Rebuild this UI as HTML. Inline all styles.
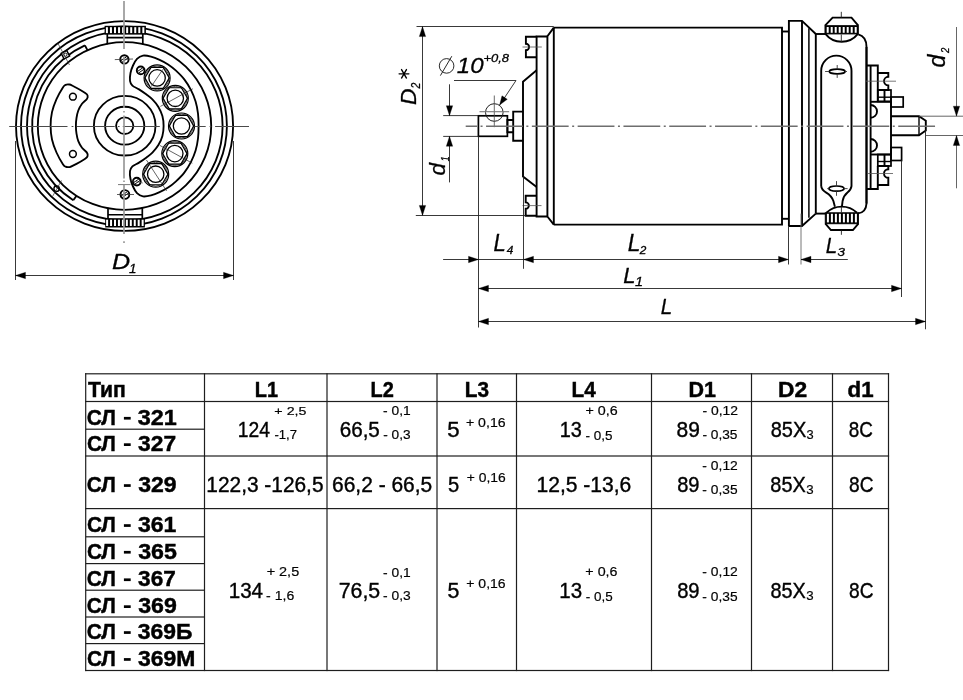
<!DOCTYPE html>
<html><head><meta charset="utf-8"><title>СЛ</title>
<style>html,body{margin:0;padding:0;background:#fff;}svg{display:block;}</style></head>
<body><svg width="963" height="700" viewBox="0 0 963 700" style="font-family:&quot;Liberation Sans&quot;, sans-serif">
<rect width="963" height="700" fill="#fff"/>
<rect x="85.1" y="373.2" width="804" height="1.2" fill="#1e1e1e"/>
<rect x="85.1" y="400.9" width="804" height="1.2" fill="#1e1e1e"/>
<rect x="85.1" y="455.4" width="804" height="1.2" fill="#1e1e1e"/>
<rect x="85.1" y="508" width="804" height="1.2" fill="#1e1e1e"/>
<rect x="85.1" y="669.9" width="804" height="1.2" fill="#1e1e1e"/>
<rect x="85.7" y="428.6" width="118.8" height="1.2" fill="#1e1e1e"/>
<rect x="85.7" y="536.2" width="118.8" height="1.2" fill="#1e1e1e"/>
<rect x="85.7" y="563" width="118.8" height="1.2" fill="#1e1e1e"/>
<rect x="85.7" y="589.6" width="118.8" height="1.2" fill="#1e1e1e"/>
<rect x="85.7" y="616.4" width="118.8" height="1.2" fill="#1e1e1e"/>
<rect x="85.7" y="643" width="118.8" height="1.2" fill="#1e1e1e"/>
<rect x="85.1" y="373.2" width="1.2" height="297.9" fill="#1e1e1e"/>
<rect x="203.9" y="373.2" width="1.2" height="297.9" fill="#1e1e1e"/>
<rect x="326.4" y="373.2" width="1.2" height="297.9" fill="#1e1e1e"/>
<rect x="436.4" y="373.2" width="1.2" height="297.9" fill="#1e1e1e"/>
<rect x="515.9" y="373.2" width="1.2" height="297.9" fill="#1e1e1e"/>
<rect x="650.9" y="373.2" width="1.2" height="297.9" fill="#1e1e1e"/>
<rect x="750.9" y="373.2" width="1.2" height="297.9" fill="#1e1e1e"/>
<rect x="831.9" y="373.2" width="1.2" height="297.9" fill="#1e1e1e"/>
<rect x="887.9" y="373.2" width="1.2" height="297.9" fill="#1e1e1e"/>
<g transform="translate(124.3,126.0) scale(1,0.967)">
<circle cx="0.25" cy="0" r="108.55" fill="none" stroke="#000" stroke-width="1.85" />
<circle cx="-0.35" cy="0" r="102.95" fill="none" stroke="#000" stroke-width="1.85" />
<circle cx="0.5" cy="0" r="97.8" fill="none" stroke="#000" stroke-width="1.85" />
<path d="M-39.4,-83.36 A92.2,92.2 0 0 0 -51.02,76.8" fill="none" stroke="#000" stroke-width="1.85" />
<line x1="-39.4" y1="-83.36" x2="-36.85" y2="-78.38" stroke="#000" stroke-width="1.85" />
<line x1="-51.02" y1="76.8" x2="-47.78" y2="72.21" stroke="#000" stroke-width="1.85" />
</g>
<line x1="107.3" y1="33.8" x2="107.3" y2="44.33" stroke="#000" stroke-width="1.7" />
<line x1="142.8" y1="33.8" x2="142.8" y2="44.55" stroke="#000" stroke-width="1.7" />
<line x1="107.3" y1="37.6" x2="142.8" y2="37.6" stroke="#000" stroke-width="1.6" />
<rect x="104.6" y="25.8" width="41.3" height="8.8" fill="#000"/>
<rect x="105.9" y="27.2" width="2.0" height="5.9" fill="#fff"/>
<rect x="109.95" y="27.2" width="2.0" height="5.9" fill="#fff"/>
<rect x="114" y="27.2" width="2.0" height="5.9" fill="#fff"/>
<rect x="118.05" y="27.2" width="2.0" height="5.9" fill="#fff"/>
<rect x="122.1" y="27.2" width="2.0" height="5.9" fill="#fff"/>
<rect x="126.15" y="27.2" width="2.0" height="5.9" fill="#fff"/>
<rect x="130.2" y="27.2" width="2.0" height="5.9" fill="#fff"/>
<rect x="134.25" y="27.2" width="2.0" height="5.9" fill="#fff"/>
<rect x="138.3" y="27.2" width="2.0" height="5.9" fill="#fff"/>
<rect x="142.35" y="27.2" width="2.0" height="5.9" fill="#fff"/>
<line x1="108" y1="207.81" x2="108" y2="218.5" stroke="#000" stroke-width="1.7" />
<line x1="142.3" y1="207.55" x2="142.3" y2="218.5" stroke="#000" stroke-width="1.7" />
<line x1="108" y1="214.8" x2="142.3" y2="214.8" stroke="#000" stroke-width="1.6" />
<rect x="105.2" y="218.2" width="39.7" height="9.3" fill="#000"/>
<rect x="106.1" y="219.7" width="2.0" height="6.3" fill="#fff"/>
<rect x="110.05" y="219.7" width="2.0" height="6.3" fill="#fff"/>
<rect x="114" y="219.7" width="2.0" height="6.3" fill="#fff"/>
<rect x="117.95" y="219.7" width="2.0" height="6.3" fill="#fff"/>
<rect x="121.9" y="219.7" width="2.0" height="6.3" fill="#fff"/>
<rect x="125.85" y="219.7" width="2.0" height="6.3" fill="#fff"/>
<rect x="129.8" y="219.7" width="2.0" height="6.3" fill="#fff"/>
<rect x="133.75" y="219.7" width="2.0" height="6.3" fill="#fff"/>
<rect x="137.7" y="219.7" width="2.0" height="6.3" fill="#fff"/>
<rect x="141.65" y="219.7" width="2.0" height="6.3" fill="#fff"/>
<g transform="translate(124.3,126.0) scale(1,0.967)">
<circle cx="0.2" cy="0" r="86.7" fill="none" stroke="#000" stroke-width="1.85" />
</g>
<rect x="62.3" y="51.6" width="6.2" height="6.2" transform="rotate(-28 65.4 54.7)" fill="#fff" stroke="#000" stroke-width="1.5"/>
<circle cx="65.4" cy="54.7" r="1.6" fill="none" stroke="#000" stroke-width="0.9" />
<line x1="58" y1="43.5" x2="69.5" y2="65" stroke="#333" stroke-width="0.7" />
<circle cx="56.6" cy="188.7" r="2.7" fill="none" stroke="#000" stroke-width="1.4" />
<line x1="52.5" y1="196.5" x2="61.5" y2="180.5" stroke="#333" stroke-width="0.7" />
<g transform="translate(124.7,125.7) scale(1,0.967)">
<circle cx="0" cy="0" r="8.6" fill="none" stroke="#000" stroke-width="1.85" />
<circle cx="0" cy="0" r="19.6" fill="none" stroke="#000" stroke-width="1.85" />
<circle cx="0" cy="0" r="30.8" fill="none" stroke="#000" stroke-width="1.85" />
</g>
<path d="M62.9,87.4 C64.42,85.03 64.58,85.38 65.6,84.9 C66.62,84.42 67.85,84.37 69,84.5 C70.15,84.63 69.8,84.3 72.5,85.7 C75.2,87.1 82.68,91.22 85.2,92.9 C87.72,94.58 87.32,94.78 87.6,95.8 C87.88,96.82 87.83,97.67 86.9,99 C85.97,100.33 83.43,101.88 82,103.8 C80.57,105.72 79.22,108.13 78.3,110.5 C77.38,112.87 76.9,115.45 76.5,118 C76.1,120.55 75.9,123.2 75.9,125.8 C75.9,128.4 76.1,131.03 76.5,133.6 C76.9,136.17 77.38,138.83 78.3,141.2 C79.22,143.57 80.57,145.9 82,147.8 C83.43,149.7 85.97,151.27 86.9,152.6 C87.83,153.93 87.88,154.78 87.6,155.8 C87.32,156.82 87.72,157.02 85.2,158.7 C82.68,160.38 75.2,164.5 72.5,165.9 C69.8,167.3 70.15,166.97 69,167.1 C67.85,167.23 66.62,167.18 65.6,166.7 C64.58,166.22 64.42,166.57 62.9,164.2 C61.38,161.83 58.32,156.62 56.5,152.5 C54.68,148.38 52.98,143.95 52,139.5 C51.02,135.05 50.6,130.37 50.6,125.8 C50.6,121.23 51.02,116.55 52,112.1 C52.98,107.65 54.68,103.22 56.5,99.1 C58.32,94.98 61.38,89.77 62.9,87.4 Z" fill="none" stroke="#000" stroke-width="1.85" />
<circle cx="72.9" cy="96.7" r="3.4" fill="none" stroke="#000" stroke-width="1.5" />
<circle cx="72.9" cy="154" r="3.4" fill="none" stroke="#000" stroke-width="1.5" />
<path d="M163.6,126 C163.6,122.7 163.27,119.28 162.4,116.1 C161.53,112.92 160.07,109.68 158.4,106.9 C156.73,104.12 154.38,101.45 152.4,99.4 C150.42,97.35 148.73,96.27 146.5,94.6 C144.27,92.93 141.35,90.9 139,89.4 C136.65,87.9 133.9,87.03 132.4,85.6 C130.9,84.17 130.32,82.9 130,80.8 C129.68,78.7 130,75.55 130.5,73 C131,70.45 131.92,67.87 133,65.5 C134.08,63.13 135.33,60.45 137,58.8 C138.67,57.15 140.67,55.97 143,55.6 C145.33,55.23 148.23,55.9 151,56.6 C153.77,57.3 156.75,58.5 159.6,59.8 C162.45,61.1 165.42,62.63 168.1,64.4 C170.78,66.17 173,67.9 175.7,70.4 C178.4,72.9 181.75,76.1 184.3,79.4 C186.85,82.7 189.12,86.52 191,90.2 C192.88,93.88 194.43,97.62 195.6,101.5 C196.77,105.38 197.5,109.42 198,113.5 C198.5,117.58 198.6,121.83 198.6,126 C198.6,130.17 198.5,134.42 198,138.5 C197.5,142.58 196.77,146.62 195.6,150.5 C194.43,154.38 192.88,158.12 191,161.8 C189.12,165.48 186.85,169.3 184.3,172.6 C181.75,175.9 178.4,179.1 175.7,181.6 C173,184.1 170.78,185.83 168.1,187.6 C165.42,189.37 162.45,190.9 159.6,192.2 C156.75,193.5 153.77,194.7 151,195.4 C148.23,196.1 145.33,196.77 143,196.4 C140.67,196.03 138.67,194.85 137,193.2 C135.33,191.55 134.08,188.87 133,186.5 C131.92,184.13 131,181.55 130.5,179 C130,176.45 129.68,173.3 130,171.2 C130.32,169.1 130.9,167.83 132.4,166.4 C133.9,164.97 136.65,164.1 139,162.6 C141.35,161.1 144.27,159.07 146.5,157.4 C148.73,155.73 150.42,154.65 152.4,152.6 C154.38,150.55 156.73,147.88 158.4,145.1 C160.07,142.32 161.53,139.08 162.4,135.9 C163.27,132.72 163.6,129.3 163.6,126 Z" fill="none" stroke="#000" stroke-width="1.85" />
<circle cx="157.1" cy="77.9" r="13" fill="#fff" stroke="#000" stroke-width="1.2" />
<circle cx="157.1" cy="77.9" r="11.9" fill="none" stroke="#222" stroke-width="0.8" />
<polygon points="169.3,77.9 163.2,88.47 151,88.47 144.9,77.9 151,67.33 163.2,67.33" fill="none" stroke="#000" stroke-width="1.2" stroke-linejoin="miter" />
<circle cx="157.1" cy="77.9" r="8.2" fill="none" stroke="#000" stroke-width="1.3" />
<line x1="151.18" y1="86.58" x2="163.02" y2="69.22" stroke="#222" stroke-width="0.7" />
<circle cx="175.3" cy="98.3" r="13" fill="#fff" stroke="#000" stroke-width="1.2" />
<circle cx="175.3" cy="98.3" r="11.9" fill="none" stroke="#222" stroke-width="0.8" />
<polygon points="187.5,98.3 181.4,108.87 169.2,108.87 163.1,98.3 169.2,87.73 181.4,87.73" fill="none" stroke="#000" stroke-width="1.2" stroke-linejoin="miter" />
<circle cx="175.3" cy="98.3" r="8.2" fill="none" stroke="#000" stroke-width="1.3" />
<line x1="160.36" y1="106.41" x2="192.88" y2="88.75" stroke="#222" stroke-width="0.7" />
<circle cx="181.5" cy="126" r="13" fill="#fff" stroke="#000" stroke-width="1.2" />
<circle cx="181.5" cy="126" r="11.9" fill="none" stroke="#222" stroke-width="0.8" />
<polygon points="193.7,126 187.6,136.57 175.4,136.57 169.3,126 175.4,115.43 187.6,115.43" fill="none" stroke="#000" stroke-width="1.2" stroke-linejoin="miter" />
<circle cx="181.5" cy="126" r="8.2" fill="none" stroke="#000" stroke-width="1.3" />
<circle cx="174.8" cy="153.6" r="13" fill="#fff" stroke="#000" stroke-width="1.2" />
<circle cx="174.8" cy="153.6" r="11.9" fill="none" stroke="#222" stroke-width="0.8" />
<polygon points="187,153.6 180.9,164.17 168.7,164.17 162.6,153.6 168.7,143.03 180.9,143.03" fill="none" stroke="#000" stroke-width="1.2" stroke-linejoin="miter" />
<circle cx="174.8" cy="153.6" r="8.2" fill="none" stroke="#000" stroke-width="1.3" />
<line x1="159.88" y1="145.45" x2="192.35" y2="163.19" stroke="#222" stroke-width="0.7" />
<circle cx="155.7" cy="174.2" r="13" fill="#fff" stroke="#000" stroke-width="1.2" />
<circle cx="155.7" cy="174.2" r="11.9" fill="none" stroke="#222" stroke-width="0.8" />
<polygon points="167.9,174.2 161.8,184.77 149.6,184.77 143.5,174.2 149.6,163.63 161.8,163.63" fill="none" stroke="#000" stroke-width="1.2" stroke-linejoin="miter" />
<circle cx="155.7" cy="174.2" r="8.2" fill="none" stroke="#000" stroke-width="1.3" />
<line x1="146.42" y1="159.96" x2="166.62" y2="190.96" stroke="#222" stroke-width="0.7" />
<circle cx="124.4" cy="59.4" r="4.2" fill="none" stroke="#000" stroke-width="1.9" />
<line x1="120.93" y1="60.67" x2="126.78" y2="56.57" stroke="#000" stroke-width="1.0" />
<line x1="122.02" y1="62.23" x2="127.87" y2="58.13" stroke="#000" stroke-width="1.0" />
<circle cx="124.9" cy="194.5" r="4.4" fill="none" stroke="#000" stroke-width="1.9" />
<line x1="121.29" y1="195.87" x2="127.42" y2="191.58" stroke="#000" stroke-width="1.0" />
<line x1="122.38" y1="197.42" x2="128.51" y2="193.13" stroke="#000" stroke-width="1.0" />
<circle cx="140.7" cy="70.4" r="3.9" fill="none" stroke="#000" stroke-width="1.9" />
<line x1="137.44" y1="71.52" x2="142.87" y2="67.72" stroke="#000" stroke-width="1.0" />
<line x1="138.53" y1="73.08" x2="143.96" y2="69.28" stroke="#000" stroke-width="1.0" />
<circle cx="136.8" cy="181.6" r="3.9" fill="none" stroke="#000" stroke-width="1.9" />
<line x1="133.54" y1="182.72" x2="138.97" y2="178.92" stroke="#000" stroke-width="1.0" />
<line x1="134.63" y1="184.28" x2="140.06" y2="180.48" stroke="#000" stroke-width="1.0" />
<line x1="114.8" y1="59.6" x2="133" y2="59" stroke="#333" stroke-width="0.8" />
<line x1="117" y1="194.5" x2="134" y2="194.5" stroke="#333" stroke-width="0.8" />
<line x1="118" y1="184.6" x2="130.5" y2="184.6" stroke="#555" stroke-width="0.8" />
<line x1="130.8" y1="180.6" x2="143" y2="183" stroke="#555" stroke-width="0.6" />
<line x1="9.2" y1="126.5" x2="67.5" y2="126.5" stroke="#4a4a4a" stroke-width="1.0" />
<line x1="71.6" y1="126.5" x2="73.4" y2="126.5" stroke="#4a4a4a" stroke-width="1.0" />
<line x1="76.9" y1="126.5" x2="114.7" y2="126.5" stroke="#4a4a4a" stroke-width="1.0" />
<line x1="118" y1="126.5" x2="119.6" y2="126.5" stroke="#4a4a4a" stroke-width="1.0" />
<line x1="122.8" y1="126.5" x2="159.8" y2="126.5" stroke="#4a4a4a" stroke-width="1.0" />
<line x1="194.4" y1="126.5" x2="205.7" y2="126.5" stroke="#4a4a4a" stroke-width="1.0" />
<line x1="209.6" y1="126.5" x2="211.3" y2="126.5" stroke="#4a4a4a" stroke-width="1.0" />
<line x1="215.1" y1="126.5" x2="249" y2="126.5" stroke="#4a4a4a" stroke-width="1.0" />
<line x1="124" y1="0.9" x2="124" y2="49.1" stroke="#999" stroke-width="1.7" />
<line x1="124" y1="57" x2="124" y2="108" stroke="#999" stroke-width="1.7" />
<line x1="124" y1="111" x2="124" y2="112.6" stroke="#999" stroke-width="1.7" />
<line x1="124" y1="115.5" x2="124" y2="178.6" stroke="#999" stroke-width="1.7" />
<line x1="124" y1="180.4" x2="124" y2="182" stroke="#999" stroke-width="1.7" />
<line x1="124" y1="184.8" x2="124" y2="234" stroke="#999" stroke-width="1.7" />
<line x1="124" y1="241.2" x2="124" y2="243" stroke="#999" stroke-width="1.7" />
<line x1="15.5" y1="141" x2="15.5" y2="280" stroke="#222" stroke-width="0.9" />
<line x1="233.5" y1="141" x2="233.5" y2="280" stroke="#222" stroke-width="0.9" />
<line x1="15.5" y1="275.5" x2="233.5" y2="275.5" stroke="#222" stroke-width="0.9" />
<polygon points="15.5,275.5 25.5,272.3 25.5,278.7" fill="#000" stroke="#000" stroke-width="0.3" stroke-linejoin="miter" />
<polygon points="233.5,275.5 223.5,278.7 223.5,272.3" fill="#000" stroke="#000" stroke-width="0.3" stroke-linejoin="miter" />
<polyline points="553.8,27.6 782,27.6 782,224.6 553.8,224.6" fill="none" stroke="#000" stroke-width="1.9" stroke-linejoin="miter" />
<line x1="553.8" y1="27.6" x2="553.8" y2="224.6" stroke="#000" stroke-width="1.9" />
<polyline points="553.8,27.6 547.4,36.3 547.4,216.5 553.8,224.6" fill="none" stroke="#000" stroke-width="1.9" stroke-linejoin="miter" />
<polyline points="547.4,36.5 536.6,36.5 536.6,216.5 547.4,216.5" fill="none" stroke="#000" stroke-width="1.9" stroke-linejoin="miter" />
<path d="M536.6,36.8 L525.9,36.8 L525.9,43.8 A3.2,3.2 0 0 1 525.9,50.2 L525.9,57.2 L536.6,57.2" fill="none" stroke="#000" stroke-width="1.9" />
<path d="M536.6,195.8 L525.7,195.8 L525.7,202.4 A3.2,3.2 0 0 1 525.7,208.8 L525.7,215.7 L536.6,215.7" fill="none" stroke="#000" stroke-width="1.9" />
<line x1="522.5" y1="47" x2="541.8" y2="47" stroke="#555" stroke-width="0.8" />
<line x1="522.5" y1="205.6" x2="541.5" y2="205.6" stroke="#555" stroke-width="0.8" />
<polyline points="536.6,70.3 523,81.7 523,176.6 536.6,187" fill="none" stroke="#000" stroke-width="1.9" stroke-linejoin="miter" />
<polyline points="523,111.6 513.2,111.6 513.2,140.8 523,140.8" fill="none" stroke="#000" stroke-width="1.9" stroke-linejoin="miter" />
<polyline points="513.2,120 507.4,120 507.4,132.3 513.2,132.3" fill="none" stroke="#000" stroke-width="1.9" stroke-linejoin="miter" />
<rect x="478.4" y="115.8" width="29" height="20.5" fill="none" stroke="#000" stroke-width="1.7"/>
<circle cx="494.3" cy="112.5" r="8.8" fill="none" stroke="#222" stroke-width="1.0" />
<line x1="494.3" y1="95.5" x2="494.3" y2="127.2" stroke="#444" stroke-width="0.8" />
<line x1="479.5" y1="111.7" x2="509.2" y2="111.7" stroke="#777" stroke-width="1.1" />
<polyline points="782,31.5 788.9,31.5" fill="none" stroke="#000" stroke-width="1.9" stroke-linejoin="miter" />
<polyline points="782,218.8 788.9,218.8" fill="none" stroke="#000" stroke-width="1.9" stroke-linejoin="miter" />
<polyline points="788.9,226 788.9,20.9 802,20.9 815.8,34" fill="none" stroke="#000" stroke-width="1.9" stroke-linejoin="miter" />
<polyline points="788.9,226 802,226 815.8,213.6" fill="none" stroke="#000" stroke-width="1.9" stroke-linejoin="miter" />
<line x1="802" y1="20.9" x2="802" y2="226" stroke="#000" stroke-width="1.9" />
<line x1="808.9" y1="28.2" x2="808.9" y2="217.8" stroke="#000" stroke-width="1.5" />
<line x1="815.8" y1="34" x2="815.8" y2="213.6" stroke="#000" stroke-width="1.9" />
<line x1="815.8" y1="34" x2="825" y2="34" stroke="#000" stroke-width="1.9" />
<line x1="815.8" y1="213.6" x2="825.8" y2="213.6" stroke="#000" stroke-width="1.9" />
<path d="M825.0,25.7 L832.6,17.6 L851.5,17.6 L858.3,25.7" fill="none" stroke="#000" stroke-width="1.9" />
<path d="M825.4,33.9 A20.7,20.7 0 0 0 857.9,33.9" fill="none" stroke="#000" stroke-width="1.9" />
<rect x="825.0" y="25.7" width="33.3" height="8.2" fill="#000" stroke="#000" stroke-width="1.0"/>
<rect x="826.7" y="27.0" width="2.0" height="5.8" fill="#fff"/>
<rect x="830.7" y="27.0" width="2.0" height="5.8" fill="#fff"/>
<rect x="834.7" y="27.0" width="2.0" height="5.8" fill="#fff"/>
<rect x="838.7" y="27.0" width="2.0" height="5.8" fill="#fff"/>
<rect x="842.7" y="27.0" width="2.0" height="5.8" fill="#fff"/>
<rect x="846.7" y="27.0" width="2.0" height="5.8" fill="#fff"/>
<rect x="850.7" y="27.0" width="2.0" height="5.8" fill="#fff"/>
<rect x="854.7" y="27.0" width="2.0" height="5.8" fill="#fff"/>
<line x1="841.3" y1="11.8" x2="841.3" y2="17.6" stroke="#222" stroke-width="0.9" />
<line x1="841.3" y1="34.5" x2="841.3" y2="42" stroke="#222" stroke-width="0.9" />
<path d="M825.4,223.7 L830.9,230.0 L852.9,230.0 L858.4,223.7" fill="none" stroke="#000" stroke-width="1.9" />
<path d="M826.4,212.8 A22.1,22.1 0 0 1 857.0,212.8" fill="none" stroke="#000" stroke-width="1.9" />
<rect x="825.3" y="212.8" width="33.1" height="10.9" fill="#000" stroke="#000" stroke-width="1.0"/>
<rect x="826.9" y="213.8" width="2.0" height="8.6" fill="#fff"/>
<rect x="830.9" y="213.8" width="2.0" height="8.6" fill="#fff"/>
<rect x="834.9" y="213.8" width="2.0" height="8.6" fill="#fff"/>
<rect x="838.9" y="213.8" width="2.0" height="8.6" fill="#fff"/>
<rect x="842.9" y="213.8" width="2.0" height="8.6" fill="#fff"/>
<rect x="846.9" y="213.8" width="2.0" height="8.6" fill="#fff"/>
<rect x="850.9" y="213.8" width="2.0" height="8.6" fill="#fff"/>
<rect x="854.9" y="213.8" width="2.0" height="8.6" fill="#fff"/>
<line x1="841.4" y1="206.8" x2="841.4" y2="212.6" stroke="#222" stroke-width="0.9" />
<line x1="841.4" y1="230.5" x2="841.4" y2="234.8" stroke="#222" stroke-width="0.9" />
<path d="M858.3,34.4 Q866.5,36.5 866.5,47 L866.5,203.5 Q866.0,212.5 858.0,213.4" fill="none" stroke="#000" stroke-width="1.9" />
<path d="M821.2,186.2 L821.2,70.8 A15.15,15.15 0 0 1 851.5,70.8 L851.5,186.2 Q851.0,190.0 847.5,192.6 Q843.6,195.8 842.6,201.0 L841.9,206.8" fill="none" stroke="#000" stroke-width="1.9" />
<path d="M821.2,186.2 Q821.6,190.0 826.2,192.6 Q831.6,195.8 833.4,201.0 L834.9,206.8" fill="none" stroke="#000" stroke-width="1.9" />
<ellipse cx="837.2" cy="71.5" rx="7.9" ry="2.35" fill="none" stroke="#000" stroke-width="1.7" />
<line x1="825.1" y1="71.5" x2="829.3" y2="71.5" stroke="#333" stroke-width="0.9" />
<line x1="845.1" y1="71.5" x2="847" y2="71.5" stroke="#333" stroke-width="0.9" />
<line x1="837.2" y1="65" x2="837.2" y2="69.2" stroke="#333" stroke-width="0.9" />
<line x1="837.2" y1="73.9" x2="837.2" y2="77.9" stroke="#333" stroke-width="0.9" />
<ellipse cx="836.5" cy="188.6" rx="7.6" ry="2.6" fill="none" stroke="#000" stroke-width="1.7" />
<line x1="827.2" y1="188.6" x2="828.9" y2="188.6" stroke="#333" stroke-width="0.9" />
<line x1="844.1" y1="188.6" x2="847.6" y2="188.6" stroke="#333" stroke-width="0.9" />
<line x1="836.5" y1="181.1" x2="836.5" y2="186" stroke="#333" stroke-width="0.9" />
<line x1="836.5" y1="191.2" x2="836.5" y2="195.8" stroke="#333" stroke-width="0.9" />
<line x1="866.5" y1="47" x2="866.5" y2="203.5" stroke="#000" stroke-width="1.9" />
<polyline points="866.5,65.5 877.8,65.5 877.8,73" fill="none" stroke="#000" stroke-width="1.9" stroke-linejoin="miter" />
<line x1="870.6" y1="65.5" x2="870.6" y2="189" stroke="#000" stroke-width="1.9" />
<line x1="877.8" y1="73" x2="877.8" y2="101.5" stroke="#000" stroke-width="1.9" />
<path d="M877.8,73.0 L888.3,73.0 L888.3,76.8 A4.3,4.3 0 0 0 888.3,85.4 L888.3,90.0 L877.8,90.0" fill="none" stroke="#000" stroke-width="1.9" />
<rect x="877.8" y="90.0" width="13.2" height="11.4" fill="none" stroke="#000" stroke-width="1.7"/>
<line x1="884.5" y1="90" x2="884.5" y2="101.4" stroke="#000" stroke-width="1.9" />
<line x1="877.8" y1="97.2" x2="891" y2="97.2" stroke="#000" stroke-width="1.4" />
<rect x="891.0" y="97.0" width="12.2" height="10.0" fill="none" stroke="#000" stroke-width="1.7"/>
<line x1="870.6" y1="101.8" x2="891" y2="101.8" stroke="#000" stroke-width="1.9" />
<path d="M870.6,105.0 A6.4,6.4 0 0 1 870.6,117.8" fill="none" stroke="#000" stroke-width="1.9" />
<line x1="891" y1="101.4" x2="891" y2="154.5" stroke="#000" stroke-width="1.9" />
<polyline points="891,116.3 919,116.3 925.8,120.8 925.8,130.5 919,135.2 891,135.2" fill="none" stroke="#000" stroke-width="1.9" stroke-linejoin="miter" />
<line x1="919" y1="116.3" x2="919" y2="135.2" stroke="#000" stroke-width="1.4" />
<path d="M870.6,139.0 A6.4,6.4 0 0 1 870.6,151.8" fill="none" stroke="#000" stroke-width="1.9" />
<line x1="870.6" y1="154.5" x2="891" y2="154.5" stroke="#000" stroke-width="1.9" />
<rect x="877.8" y="154.5" width="13.2" height="11.5" fill="none" stroke="#000" stroke-width="1.7"/>
<line x1="884.5" y1="154.5" x2="884.5" y2="166" stroke="#000" stroke-width="1.9" />
<line x1="877.8" y1="161.5" x2="891" y2="161.5" stroke="#000" stroke-width="1.4" />
<rect x="891.0" y="147.5" width="10.6" height="13.0" fill="none" stroke="#000" stroke-width="1.7"/>
<path d="M877.8,166.0 L888.3,166.0 L888.3,169.2 A4.3,4.3 0 0 0 888.3,177.8 L888.3,185.0 L877.8,185.0" fill="none" stroke="#000" stroke-width="1.9" />
<polyline points="877.8,166 877.8,189 866.5,189" fill="none" stroke="#000" stroke-width="1.9" stroke-linejoin="miter" />
<line x1="866" y1="81.2" x2="896" y2="81.2" stroke="#555" stroke-width="0.8" />
<line x1="868" y1="173.5" x2="893" y2="173.5" stroke="#555" stroke-width="0.8" />
<line x1="465.7" y1="126.25" x2="935.5" y2="126.25" stroke="#6e6e6e" stroke-width="1.3" stroke-dasharray="36.8 3.5 2 3.5" stroke-dashoffset="25.45"/>
<line x1="416.5" y1="26.5" x2="553.8" y2="26.5" stroke="#222" stroke-width="0.9" />
<line x1="415.8" y1="215.5" x2="525.7" y2="215.5" stroke="#222" stroke-width="0.9" />
<line x1="422.5" y1="26.6" x2="422.5" y2="215.3" stroke="#222" stroke-width="0.9" />
<polygon points="422.5,26.6 425.7,36.6 419.3,36.6" fill="#000" stroke="#000" stroke-width="0.3" stroke-linejoin="miter" />
<polygon points="422.5,215.4 419.3,205.4 425.7,205.4" fill="#000" stroke="#000" stroke-width="0.3" stroke-linejoin="miter" />
<line x1="443.2" y1="115.6" x2="478.4" y2="115.6" stroke="#222" stroke-width="0.9" />
<line x1="443.2" y1="136.4" x2="478.4" y2="136.4" stroke="#222" stroke-width="0.9" />
<line x1="449.5" y1="84.3" x2="449.5" y2="115.8" stroke="#222" stroke-width="0.9" />
<polygon points="449.5,115.7 446.3,105.7 452.7,105.7" fill="#000" stroke="#000" stroke-width="0.3" stroke-linejoin="miter" />
<line x1="449.5" y1="136.3" x2="449.5" y2="182.4" stroke="#222" stroke-width="0.9" />
<polygon points="449.5,136.3 452.7,146.3 446.3,146.3" fill="#000" stroke="#000" stroke-width="0.3" stroke-linejoin="miter" />
<line x1="454" y1="80.5" x2="516" y2="80.5" stroke="#222" stroke-width="0.9" />
<line x1="516" y1="80.5" x2="499.8" y2="104.8" stroke="#222" stroke-width="0.9" />
<polygon points="499.6,105 501.98,95.75 507.29,99.33" fill="#000" stroke="#000" stroke-width="0.3" stroke-linejoin="miter" />
<circle cx="446.6" cy="65.9" r="7.3" fill="none" stroke="#111" stroke-width="0.9" />
<line x1="440.4" y1="75.6" x2="451.8" y2="56.2" stroke="#111" stroke-width="0.9" />
<line x1="478.5" y1="136.3" x2="478.5" y2="327.5" stroke="#222" stroke-width="0.9" />
<line x1="523.5" y1="176.6" x2="523.5" y2="268.8" stroke="#222" stroke-width="0.9" />
<line x1="788.5" y1="226" x2="788.5" y2="264.5" stroke="#222" stroke-width="0.9" />
<line x1="801" y1="213.6" x2="801" y2="264.5" stroke="#666" stroke-width="0.9" />
<line x1="901.5" y1="160.5" x2="901.5" y2="297" stroke="#222" stroke-width="0.9" />
<line x1="925.5" y1="130.5" x2="925.5" y2="329.3" stroke="#222" stroke-width="0.9" />
<line x1="919" y1="116.2" x2="963" y2="116.2" stroke="#555" stroke-width="0.9" />
<line x1="925.8" y1="135.5" x2="963" y2="135.5" stroke="#555" stroke-width="0.9" />
<line x1="956.5" y1="27" x2="956.5" y2="116" stroke="#555" stroke-width="0.9" />
<polygon points="956.5,116.2 953.3,106.2 959.7,106.2" fill="#000" stroke="#000" stroke-width="0.3" stroke-linejoin="miter" />
<line x1="956.5" y1="135.3" x2="956.5" y2="188.3" stroke="#555" stroke-width="0.9" />
<polygon points="956.5,135.5 959.7,145.5 953.3,145.5" fill="#000" stroke="#000" stroke-width="0.3" stroke-linejoin="miter" />
<line x1="443.1" y1="259.5" x2="787.6" y2="259.5" stroke="#222" stroke-width="0.9" />
<polygon points="478.5,259.5 468.5,262.7 468.5,256.3" fill="#000" stroke="#000" stroke-width="0.3" stroke-linejoin="miter" />
<polygon points="523.5,259.5 533.5,256.3 533.5,262.7" fill="#000" stroke="#000" stroke-width="0.3" stroke-linejoin="miter" />
<polygon points="788.5,259.5 778.5,262.7 778.5,256.3" fill="#000" stroke="#000" stroke-width="0.3" stroke-linejoin="miter" />
<line x1="801" y1="259.5" x2="847.8" y2="259.5" stroke="#222" stroke-width="0.9" />
<polygon points="801,259.5 811,256.3 811,262.7" fill="#000" stroke="#000" stroke-width="0.3" stroke-linejoin="miter" />
<line x1="478.5" y1="288.5" x2="901.5" y2="288.5" stroke="#222" stroke-width="0.9" />
<polygon points="478.5,288.5 488.5,285.3 488.5,291.7" fill="#000" stroke="#000" stroke-width="0.3" stroke-linejoin="miter" />
<polygon points="901.5,288.5 891.5,291.7 891.5,285.3" fill="#000" stroke="#000" stroke-width="0.3" stroke-linejoin="miter" />
<line x1="478.5" y1="321.5" x2="925.5" y2="321.5" stroke="#222" stroke-width="0.9" />
<polygon points="478.5,321.5 488.5,318.3 488.5,324.7" fill="#000" stroke="#000" stroke-width="0.3" stroke-linejoin="miter" />
<polygon points="925.5,321.5 915.5,324.7 915.5,318.3" fill="#000" stroke="#000" stroke-width="0.3" stroke-linejoin="miter" />
<line x1="399.1" y1="73.8" x2="408.9" y2="73.8" stroke="#000" stroke-width="1.35" stroke-linecap="round"/>
<line x1="401.55" y1="69.56" x2="406.45" y2="78.04" stroke="#000" stroke-width="1.35" stroke-linecap="round"/>
<line x1="406.45" y1="69.56" x2="401.55" y2="78.04" stroke="#000" stroke-width="1.35" stroke-linecap="round"/>
<g fill="#000" opacity="0.999">
<text x="87.96" y="396.90" style="font-size:21.22px;font-weight:bold;" stroke="#000" stroke-width="0.45" textLength="37.85" lengthAdjust="spacingAndGlyphs">Тип</text>
<text x="254.80" y="396.90" style="font-size:21.22px;font-weight:bold;" stroke="#000" stroke-width="0.45" textLength="23.22" lengthAdjust="spacingAndGlyphs">L1</text>
<text x="370.51" y="396.90" style="font-size:21.22px;font-weight:bold;" stroke="#000" stroke-width="0.45" textLength="23.30" lengthAdjust="spacingAndGlyphs">L2</text>
<text x="464.80" y="396.90" style="font-size:21.22px;font-weight:bold;" stroke="#000" stroke-width="0.45" textLength="24.19" lengthAdjust="spacingAndGlyphs">L3</text>
<text x="571.62" y="396.90" style="font-size:21.22px;font-weight:bold;" stroke="#000" stroke-width="0.45" textLength="24.18" lengthAdjust="spacingAndGlyphs">L4</text>
<text x="688.40" y="396.90" style="font-size:21.22px;font-weight:bold;" stroke="#000" stroke-width="0.45" textLength="27.47" lengthAdjust="spacingAndGlyphs">D1</text>
<text x="778.07" y="396.90" style="font-size:21.22px;font-weight:bold;" stroke="#000" stroke-width="0.45" textLength="29.12" lengthAdjust="spacingAndGlyphs">D2</text>
<text x="847.58" y="396.90" style="font-size:21.22px;font-weight:bold;" stroke="#000" stroke-width="0.45" textLength="26.03" lengthAdjust="spacingAndGlyphs">d1</text>
<text x="86.71" y="424.90" style="font-size:22.09px;font-weight:bold;" stroke="#000" stroke-width="0.45" textLength="29.19" lengthAdjust="spacingAndGlyphs">СЛ</text>
<text x="137.78" y="424.90" style="font-size:22.09px;font-weight:bold;" stroke="#000" stroke-width="0.45" textLength="39.03" lengthAdjust="spacingAndGlyphs">321</text>
<text x="86.91" y="451.10" style="font-size:21.80px;font-weight:bold;" stroke="#000" stroke-width="0.45" textLength="29.03" lengthAdjust="spacingAndGlyphs">СЛ</text>
<text x="138.14" y="451.10" style="font-size:21.80px;font-weight:bold;" stroke="#000" stroke-width="0.45" textLength="37.99" lengthAdjust="spacingAndGlyphs">327</text>
<text x="86.87" y="491.90" style="font-size:21.66px;font-weight:bold;" stroke="#000" stroke-width="0.45" textLength="29.05" lengthAdjust="spacingAndGlyphs">СЛ</text>
<text x="138.18" y="491.90" style="font-size:21.66px;font-weight:bold;" stroke="#000" stroke-width="0.45" textLength="38.39" lengthAdjust="spacingAndGlyphs">329</text>
<text x="86.91" y="532.00" style="font-size:21.80px;font-weight:bold;" stroke="#000" stroke-width="0.45" textLength="29.03" lengthAdjust="spacingAndGlyphs">СЛ</text>
<text x="137.91" y="532.00" style="font-size:21.80px;font-weight:bold;" stroke="#000" stroke-width="0.45" textLength="38.42" lengthAdjust="spacingAndGlyphs">361</text>
<text x="86.91" y="558.70" style="font-size:21.80px;font-weight:bold;" stroke="#000" stroke-width="0.45" textLength="29.03" lengthAdjust="spacingAndGlyphs">СЛ</text>
<text x="138.15" y="558.70" style="font-size:21.80px;font-weight:bold;" stroke="#000" stroke-width="0.45" textLength="38.72" lengthAdjust="spacingAndGlyphs">365</text>
<text x="86.71" y="586.40" style="font-size:22.09px;font-weight:bold;" stroke="#000" stroke-width="0.45" textLength="29.19" lengthAdjust="spacingAndGlyphs">СЛ</text>
<text x="138.13" y="586.40" style="font-size:22.09px;font-weight:bold;" stroke="#000" stroke-width="0.45" textLength="37.65" lengthAdjust="spacingAndGlyphs">367</text>
<text x="86.86" y="612.80" style="font-size:21.37px;font-weight:bold;" stroke="#000" stroke-width="0.45" textLength="29.05" lengthAdjust="spacingAndGlyphs">СЛ</text>
<text x="138.22" y="612.80" style="font-size:21.37px;font-weight:bold;" stroke="#000" stroke-width="0.45" textLength="38.60" lengthAdjust="spacingAndGlyphs">369</text>
<text x="86.71" y="639.20" style="font-size:22.09px;font-weight:bold;" stroke="#000" stroke-width="0.45" textLength="29.19" lengthAdjust="spacingAndGlyphs">СЛ</text>
<text x="137.84" y="639.20" style="font-size:22.09px;font-weight:bold;" stroke="#000" stroke-width="0.45" textLength="54.66" lengthAdjust="spacingAndGlyphs">369Б</text>
<text x="86.91" y="665.90" style="font-size:21.80px;font-weight:bold;" stroke="#000" stroke-width="0.45" textLength="29.03" lengthAdjust="spacingAndGlyphs">СЛ</text>
<text x="138.09" y="665.90" style="font-size:21.80px;font-weight:bold;" stroke="#000" stroke-width="0.45" textLength="57.36" lengthAdjust="spacingAndGlyphs">369М</text>
<text x="237.84" y="437.30" style="font-size:21.95px;" stroke="#000" stroke-width="0.4" textLength="32.17" lengthAdjust="spacingAndGlyphs">124</text>
<text x="274.38" y="414.70" style="font-size:11.48px;" stroke="#000" stroke-width="0.2" textLength="32.03" lengthAdjust="spacingAndGlyphs">+ 2,5</text>
<text x="274.45" y="439.20" style="font-size:12.50px;" stroke="#000" stroke-width="0.2" textLength="22.56" lengthAdjust="spacingAndGlyphs">-1,7</text>
<text x="339.67" y="437.00" style="font-size:21.95px;" stroke="#000" stroke-width="0.4" textLength="40.21" lengthAdjust="spacingAndGlyphs">66,5</text>
<text x="383.07" y="414.90" style="font-size:13.23px;" stroke="#000" stroke-width="0.2" textLength="27.58" lengthAdjust="spacingAndGlyphs">- 0,1</text>
<text x="383.22" y="439.30" style="font-size:12.79px;" stroke="#000" stroke-width="0.2" textLength="27.32" lengthAdjust="spacingAndGlyphs">- 0,3</text>
<text x="447.29" y="436.80" style="font-size:21.37px;" stroke="#000" stroke-width="0.4" textLength="12.35" lengthAdjust="spacingAndGlyphs">5</text>
<text x="465.98" y="426.80" style="font-size:12.65px;" stroke="#000" stroke-width="0.2" textLength="39.61" lengthAdjust="spacingAndGlyphs">+ 0,16</text>
<text x="559.76" y="436.80" style="font-size:21.37px;" stroke="#000" stroke-width="0.4" textLength="22.12" lengthAdjust="spacingAndGlyphs">13</text>
<text x="585.41" y="415.10" style="font-size:12.50px;" stroke="#000" stroke-width="0.2" textLength="32.19" lengthAdjust="spacingAndGlyphs">+ 0,6</text>
<text x="585.49" y="440.00" style="font-size:12.50px;" stroke="#000" stroke-width="0.2" textLength="26.89" lengthAdjust="spacingAndGlyphs">- 0,5</text>
<text x="676.58" y="437.40" style="font-size:21.80px;" stroke="#000" stroke-width="0.4" textLength="23.36" lengthAdjust="spacingAndGlyphs">89</text>
<text x="702.44" y="415.00" style="font-size:12.79px;" stroke="#000" stroke-width="0.2" textLength="35.55" lengthAdjust="spacingAndGlyphs">- 0,12</text>
<text x="702.41" y="439.10" style="font-size:13.23px;" stroke="#000" stroke-width="0.2" textLength="35.09" lengthAdjust="spacingAndGlyphs">- 0,35</text>
<text x="770.73" y="437.40" style="font-size:21.80px;" stroke="#000" stroke-width="0.4" textLength="35.55" lengthAdjust="spacingAndGlyphs">85X</text>
<text x="806.40" y="439.40" style="font-size:12.94px;" stroke="#000" stroke-width="0.2" textLength="7.17" lengthAdjust="spacingAndGlyphs">3</text>
<text x="848.74" y="437.40" style="font-size:21.80px;" stroke="#000" stroke-width="0.4" textLength="24.11" lengthAdjust="spacingAndGlyphs">8C</text>
<text x="206.35" y="492.20" style="font-size:21.22px;" stroke="#000" stroke-width="0.4" textLength="117.16" lengthAdjust="spacingAndGlyphs">122,3 -126,5</text>
<text x="332.06" y="492.20" style="font-size:21.22px;" stroke="#000" stroke-width="0.4" textLength="100.20" lengthAdjust="spacingAndGlyphs">66,2 - 66,5</text>
<text x="447.97" y="492.20" style="font-size:21.22px;" stroke="#000" stroke-width="0.4" textLength="11.20" lengthAdjust="spacingAndGlyphs">5</text>
<text x="466.80" y="482.20" style="font-size:12.94px;" stroke="#000" stroke-width="0.2" textLength="38.89" lengthAdjust="spacingAndGlyphs">+ 0,16</text>
<text x="536.52" y="492.20" style="font-size:21.22px;" stroke="#000" stroke-width="0.4" textLength="94.81" lengthAdjust="spacingAndGlyphs">12,5 -13,6</text>
<text x="677.20" y="492.20" style="font-size:21.22px;" stroke="#000" stroke-width="0.4" textLength="22.31" lengthAdjust="spacingAndGlyphs">89</text>
<text x="702.37" y="469.50" style="font-size:13.08px;" stroke="#000" stroke-width="0.2" textLength="35.49" lengthAdjust="spacingAndGlyphs">- 0,12</text>
<text x="702.39" y="493.70" style="font-size:13.08px;" stroke="#000" stroke-width="0.2" textLength="35.21" lengthAdjust="spacingAndGlyphs">- 0,35</text>
<text x="770.37" y="492.20" style="font-size:21.22px;" stroke="#000" stroke-width="0.4" textLength="35.41" lengthAdjust="spacingAndGlyphs">85X</text>
<text x="806.23" y="494.20" style="font-size:13.08px;" stroke="#000" stroke-width="0.2" textLength="7.38" lengthAdjust="spacingAndGlyphs">3</text>
<text x="849.08" y="492.20" style="font-size:21.22px;" stroke="#000" stroke-width="0.4" textLength="24.41" lengthAdjust="spacingAndGlyphs">8C</text>
<text x="228.69" y="598.20" style="font-size:21.80px;" stroke="#000" stroke-width="0.4" textLength="34.35" lengthAdjust="spacingAndGlyphs">134</text>
<text x="266.67" y="575.80" style="font-size:13.08px;" stroke="#000" stroke-width="0.2" textLength="32.51" lengthAdjust="spacingAndGlyphs">+ 2,5</text>
<text x="266.09" y="600.00" style="font-size:13.08px;" stroke="#000" stroke-width="0.2" textLength="28.14" lengthAdjust="spacingAndGlyphs">- 1,6</text>
<text x="338.73" y="598.20" style="font-size:22.09px;" stroke="#000" stroke-width="0.4" textLength="41.50" lengthAdjust="spacingAndGlyphs">76,5</text>
<text x="383.07" y="576.50" style="font-size:13.08px;" stroke="#000" stroke-width="0.2" textLength="27.57" lengthAdjust="spacingAndGlyphs">- 0,1</text>
<text x="383.08" y="600.30" style="font-size:13.08px;" stroke="#000" stroke-width="0.2" textLength="27.61" lengthAdjust="spacingAndGlyphs">- 0,3</text>
<text x="447.38" y="598.20" style="font-size:21.80px;" stroke="#000" stroke-width="0.4" textLength="11.88" lengthAdjust="spacingAndGlyphs">5</text>
<text x="466.29" y="588.00" style="font-size:13.08px;" stroke="#000" stroke-width="0.2" textLength="39.31" lengthAdjust="spacingAndGlyphs">+ 0,16</text>
<text x="559.24" y="598.40" style="font-size:21.80px;" stroke="#000" stroke-width="0.4" textLength="22.81" lengthAdjust="spacingAndGlyphs">13</text>
<text x="585.38" y="576.00" style="font-size:13.08px;" stroke="#000" stroke-width="0.2" textLength="32.14" lengthAdjust="spacingAndGlyphs">+ 0,6</text>
<text x="585.83" y="600.80" style="font-size:13.08px;" stroke="#000" stroke-width="0.2" textLength="26.89" lengthAdjust="spacingAndGlyphs">- 0,5</text>
<text x="677.15" y="598.40" style="font-size:21.80px;" stroke="#000" stroke-width="0.4" textLength="22.45" lengthAdjust="spacingAndGlyphs">89</text>
<text x="702.37" y="576.00" style="font-size:13.08px;" stroke="#000" stroke-width="0.2" textLength="35.49" lengthAdjust="spacingAndGlyphs">- 0,12</text>
<text x="702.39" y="600.80" style="font-size:13.08px;" stroke="#000" stroke-width="0.2" textLength="35.21" lengthAdjust="spacingAndGlyphs">- 0,35</text>
<text x="770.44" y="598.40" style="font-size:21.80px;" stroke="#000" stroke-width="0.4" textLength="35.35" lengthAdjust="spacingAndGlyphs">85X</text>
<text x="806.23" y="600.00" style="font-size:13.08px;" stroke="#000" stroke-width="0.2" textLength="7.38" lengthAdjust="spacingAndGlyphs">3</text>
<text x="849.01" y="598.40" style="font-size:21.80px;" stroke="#000" stroke-width="0.4" textLength="24.44" lengthAdjust="spacingAndGlyphs">8C</text>
<text x="111.95" y="269.30" style="font-size:22.67px;font-style:italic;" stroke="#000" stroke-width="0.3" textLength="18.20" lengthAdjust="spacingAndGlyphs">D</text>
<text x="129.07" y="273.20" style="font-size:12.94px;font-style:italic;" stroke="#000" stroke-width="0.3" textLength="7.50" lengthAdjust="spacingAndGlyphs">1</text>
<text x="493.62" y="251.20" style="font-size:23.55px;font-style:italic;" stroke="#000" stroke-width="0.3" textLength="12.33" lengthAdjust="spacingAndGlyphs">L</text>
<text x="506.74" y="254.40" style="font-size:10.76px;font-style:italic;" stroke="#000" stroke-width="0.3" textLength="6.60" lengthAdjust="spacingAndGlyphs">4</text>
<text x="627.70" y="251.20" style="font-size:23.55px;font-style:italic;" stroke="#000" stroke-width="0.3" textLength="12.68" lengthAdjust="spacingAndGlyphs">L</text>
<text x="639.81" y="254.40" style="font-size:10.76px;font-style:italic;" stroke="#000" stroke-width="0.3" textLength="6.58" lengthAdjust="spacingAndGlyphs">2</text>
<text x="623.18" y="282.80" style="font-size:22.38px;font-style:italic;" stroke="#000" stroke-width="0.3" textLength="12.26" lengthAdjust="spacingAndGlyphs">L</text>
<text x="635.03" y="286.00" style="font-size:12.65px;font-style:italic;" stroke="#000" stroke-width="0.3" textLength="8.09" lengthAdjust="spacingAndGlyphs">1</text>
<text x="660.83" y="313.50" style="font-size:22.82px;font-style:italic;" stroke="#000" stroke-width="0.3" textLength="11.46" lengthAdjust="spacingAndGlyphs">L</text>
<text x="825.85" y="253.30" style="font-size:22.67px;font-style:italic;" stroke="#000" stroke-width="0.3" textLength="11.44" lengthAdjust="spacingAndGlyphs">L</text>
<text x="837.44" y="256.30" style="font-size:11.77px;font-style:italic;" stroke="#000" stroke-width="0.3" textLength="7.48" lengthAdjust="spacingAndGlyphs">3</text>
<text x="456.80" y="72.80" style="font-size:22.97px;font-style:italic;" stroke="#000" stroke-width="0.3" textLength="26.80" lengthAdjust="spacingAndGlyphs">10</text>
<text x="483.40" y="62.10" style="font-size:10.90px;font-style:italic;" stroke="#000" stroke-width="0.3" textLength="25.66" lengthAdjust="spacingAndGlyphs">+0,8</text>
<rect x="123.9" y="416.90" width="6.8" height="2.7"/>
<rect x="123.9" y="443.30" width="6.8" height="2.7"/>
<rect x="123.9" y="484.20" width="6.8" height="2.7"/>
<rect x="123.9" y="524.20" width="6.8" height="2.7"/>
<rect x="123.9" y="550.90" width="6.8" height="2.7"/>
<rect x="123.9" y="578.40" width="6.8" height="2.7"/>
<rect x="123.9" y="605.30" width="6.8" height="2.7"/>
<rect x="123.9" y="631.20" width="6.8" height="2.7"/>
<rect x="123.9" y="658.10" width="6.8" height="2.7"/>
<text transform="translate(415.7,105.0) rotate(-90)" x="0" y="0" style="font-size:22.8px;font-style:italic" stroke="#000" stroke-width="0.3">D</text>
<text transform="translate(420.0,88.5) rotate(-90)" x="0" y="0" style="font-size:12.3px;font-style:italic" stroke="#000" stroke-width="0.3" textLength="5.8" lengthAdjust="spacingAndGlyphs">2</text>
<text transform="translate(444.7,175.5) rotate(-90)" x="0" y="0" style="font-size:22.3px;font-style:italic" stroke="#000" stroke-width="0.3">d</text>
<text transform="translate(449.1,161.2) rotate(-90)" x="0" y="0" style="font-size:11.2px;font-style:italic" stroke="#000" stroke-width="0.3" textLength="4.85" lengthAdjust="spacingAndGlyphs">1</text>
<text transform="translate(944.8,67.6) rotate(-90)" x="0" y="0" style="font-size:23.1px;font-style:italic" stroke="#000" stroke-width="0.3">d</text>
<text transform="translate(948.6,53.1) rotate(-90)" x="0" y="0" style="font-size:11.75px;font-style:italic" stroke="#000" stroke-width="0.3" textLength="5.4" lengthAdjust="spacingAndGlyphs">2</text>
</g>
</svg></body></html>
